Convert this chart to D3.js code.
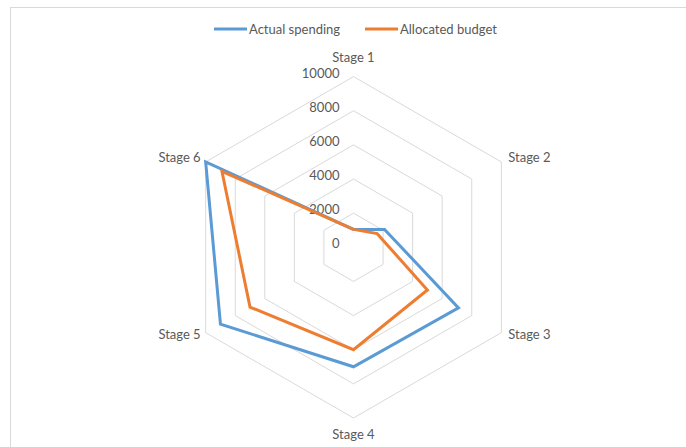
<!DOCTYPE html>
<html>
<head>
<meta charset="utf-8">
<script src="https://cdn.jsdelivr.net/npm/d3@7"></script>
<style>
  html, body { margin: 0; padding: 0; background: #fff; }
  svg { display: block; }
  text { font-family: Lato, "Open Sans", sans-serif; fill: #595959; }
</style>
</head>
<body>
<svg id="chart" width="686" height="447"></svg>
<script>
// Radar chart: spending vs budget across six project stages
const stages = ["Stage 1", "Stage 2", "Stage 3", "Stage 4", "Stage 5", "Stage 6"];
const actualSpending = [1050, 2100, 7100, 7000, 9000, 10000];
const allocatedBudget = [1050, 1600, 5000, 6000, 7000, 8900];
const ringTicks = [0, 2000, 4000, 6000, 8000, 10000];
const seriesNames = ["Actual spending", "Allocated budget"];
const seriesColors = ["#5B9BD5", "#ED7D31"];

const svg = d3.select("#chart");
const W = 686, H = 447;

// chart area border
svg.append("rect")
  .attr("x", 10.5).attr("y", 7.5)
  .attr("width", W + 10).attr("height", H + 10)
  .attr("fill", "#fff").attr("stroke", "#d9d9d9").attr("stroke-width", 1);

const cx = 353.5, cy = 247.3, R = 170.7;
const r = d3.scaleLinear().domain([0, 10000]).range([0, R]);
const angle = d3.scalePoint().domain(stages).range([0, 2 * Math.PI * (stages.length - 1) / stages.length]);

const g = svg.append("g").attr("transform", `translate(${cx},${cy})`);

const radial = d3.lineRadial()
  .angle((d, i) => angle(stages[i]))
  .radius(d => r(d))
  .curve(d3.curveLinearClosed);

// hexagonal grid rings
g.selectAll("path.ring")
  .data(ringTicks.filter(t => t > 0))
  .join("path")
  .attr("class", "ring")
  .attr("d", t => radial(stages.map(() => t)))
  .attr("fill", "none")
  .attr("stroke", "#d9d9d9")
  .attr("stroke-width", 1);

// value labels along the top axis
g.selectAll("text.tick")
  .data(ringTicks)
  .join("text")
  .attr("class", "tick")
  .attr("x", -14)
  .attr("y", t => -r(t) + 1)
  .attr("text-anchor", "end")
  .attr("font-size", 13)
  .text(t => t);

// stage labels at the outer vertices
const lblOff = 11;
g.selectAll("text.stage")
  .data(stages)
  .join("text")
  .attr("class", "stage")
  .attr("font-size", 13)
  .each(function (s) {
    const a = angle(s);
    const sx = Math.sin(a), sy = -Math.cos(a);
    const el = d3.select(this);
    let x = R * sx, y = R * sy;
    let anchor = "middle";
    if (Math.abs(sx) < 0.01) {
      y += sy < 0 ? -lblOff - 4 : lblOff + 10;
    } else {
      anchor = sx > 0 ? "start" : "end";
      x += sx > 0 ? 7 : -5;
      y += sy < 0 ? 0 : 6;
    }
    el.attr("x", x).attr("y", y).attr("text-anchor", anchor).text(s);
  });

// series outlines
const series = [actualSpending, allocatedBudget];
g.selectAll("path.series")
  .data(series)
  .join("path")
  .attr("class", "series")
  .attr("d", d => radial(d))
  .attr("fill", "none")
  .attr("stroke", (d, i) => seriesColors[i])
  .attr("stroke-width", 3)
  .attr("stroke-linejoin", "miter");

// legend
const legend = svg.append("g").attr("transform", "translate(214,29)");
const legendX = [0, 151];
seriesNames.forEach((name, i) => {
  const lg = legend.append("g").attr("transform", `translate(${legendX[i]},0)`);
  lg.append("line")
    .attr("x1", 0).attr("x2", 33).attr("y1", 0).attr("y2", 0)
    .attr("stroke", seriesColors[i]).attr("stroke-width", 3);
  lg.append("text")
    .attr("x", 35).attr("y", 4.5)
    .attr("font-size", 13)
    .text(name);
});
</script>
</body>
</html>
